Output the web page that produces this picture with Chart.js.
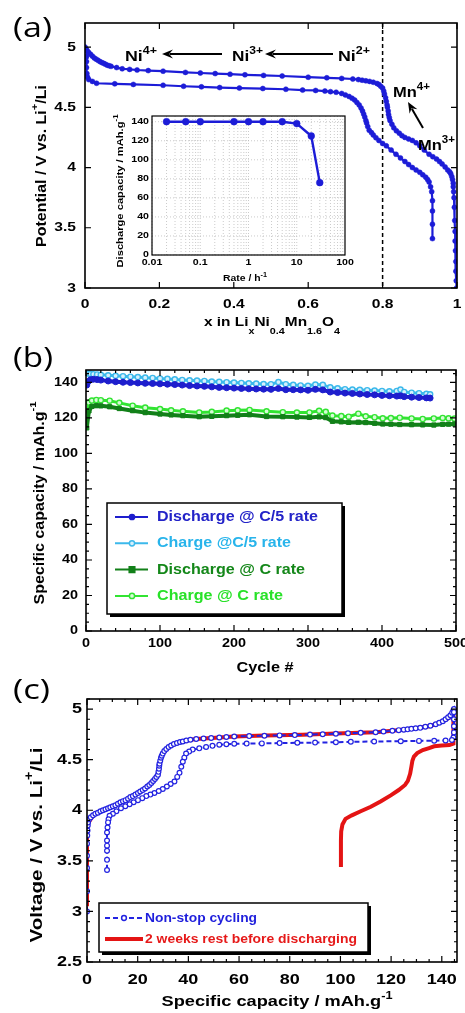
<!DOCTYPE html>
<html>
<head>
<meta charset="utf-8">
<script src="https://cdn.jsdelivr.net/npm/chart.js@4.4.1/dist/chart.umd.min.js"></script>
<style>
    html, body { margin: 0; padding: 0; background: #fff; }
    body { width: 465px; height: 1013px; position: relative; overflow: hidden; }
    canvas { position: absolute; left: 0; }
</style>
</head>
<body>
<canvas id="chartA" width="465" height="345" style="top:0"></canvas>
<canvas id="chartInset" width="260" height="190" style="left:100px;top:100px"></canvas>
<canvas id="chartB" width="465" height="360" style="top:330px"></canvas>
<canvas id="chartC" width="465" height="341" style="top:672px"></canvas>
<script>
// (a) potential vs x in LixNi0.4Mn1.6O4, pairs of [x, V]
const aCharge = [[0, 5.0], [0.003, 4.985], [0.006, 4.97], [0.01, 4.955], [0.015, 4.94], [0.02, 4.925], [0.025, 4.91], [0.03, 4.9],
    [0.035, 4.89], [0.04, 4.88], [0.045, 4.872], [0.05, 4.865], [0.055, 4.858], [0.06, 4.85], [0.065, 4.845], [0.07, 4.84],
    [0.085, 4.83], [0.1, 4.82], [0.12, 4.815], [0.14, 4.81], [0.17, 4.805], [0.21, 4.8], [0.27, 4.79], [0.31, 4.785],
    [0.35, 4.78], [0.39, 4.775], [0.43, 4.77], [0.48, 4.765], [0.53, 4.76], [0.6, 4.75], [0.65, 4.745], [0.69, 4.74],
    [0.72, 4.735], [0.735, 4.73], [0.745, 4.725], [0.755, 4.72], [0.765, 4.715], [0.775, 4.708], [0.785, 4.698], [0.79, 4.69],
    [0.795, 4.675], [0.8, 4.66], [0.803, 4.635], [0.805, 4.61], [0.808, 4.58], [0.81, 4.55], [0.812, 4.52], [0.813, 4.5],
    [0.815, 4.47], [0.816, 4.44], [0.818, 4.415], [0.82, 4.39], [0.825, 4.36], [0.83, 4.33], [0.837, 4.305], [0.845, 4.285],
    [0.852, 4.265], [0.86, 4.25], [0.87, 4.237], [0.88, 4.225], [0.89, 4.205], [0.9, 4.18], [0.912, 4.145], [0.925, 4.11],
    [0.935, 4.09], [0.945, 4.07], [0.953, 4.05], [0.96, 4.03], [0.968, 4.005], [0.975, 3.98], [0.98, 3.965], [0.983, 3.95],
    [0.986, 3.925], [0.988, 3.9], [0.99, 3.87], [0.99, 3.84], [0.991, 3.8], [0.992, 3.75], [0.993, 3.67], [0.994, 3.56],
    [0.995, 3.47], [0.995, 3.39], [0.996, 3.31], [0.997, 3.22], [0.997, 3.14], [0.998, 3.06], [0.999, 3.0]];
const aDischarge = [[0.004, 4.97], [0.004, 4.92], [0.004, 4.88], [0.004, 4.83], [0.005, 4.78], [0.007, 4.75], [0.01, 4.73],
    [0.02, 4.715], [0.031, 4.7], [0.08, 4.695], [0.13, 4.69], [0.21, 4.683], [0.265, 4.675], [0.313, 4.67], [0.362, 4.664],
    [0.415, 4.66], [0.478, 4.656], [0.54, 4.65], [0.585, 4.643], [0.62, 4.64], [0.645, 4.635], [0.66, 4.63], [0.675, 4.625],
    [0.69, 4.615], [0.7, 4.603], [0.71, 4.59], [0.718, 4.575], [0.725, 4.56], [0.731, 4.54], [0.737, 4.52], [0.742, 4.495],
    [0.746, 4.47], [0.749, 4.445], [0.752, 4.42], [0.755, 4.39], [0.757, 4.37], [0.76, 4.34], [0.764, 4.31], [0.77, 4.29],
    [0.775, 4.27], [0.782, 4.248], [0.79, 4.225], [0.8, 4.2], [0.81, 4.18], [0.823, 4.145], [0.836, 4.11], [0.848, 4.08],
    [0.86, 4.05], [0.87, 4.025], [0.88, 4.0], [0.89, 3.98], [0.9, 3.96], [0.908, 3.94], [0.916, 3.92], [0.921, 3.9],
    [0.925, 3.88], [0.929, 3.84], [0.932, 3.8], [0.934, 3.725], [0.934, 3.64], [0.934, 3.53], [0.934, 3.41]];
const aTicksX = [0, 0.2, 0.4, 0.6, 0.8, 1];
const aTicksY = [3, 3.5, 4, 4.5, 5];

// inset: rate capability
const insetRate = [0.02, 0.05, 0.1, 0.5, 1, 2, 5, 10, 20, 30];
const insetCapacity = [140, 140, 140, 140, 140, 140, 140, 138, 125, 76];
const insetTicksX = [0.01, 0.1, 1, 10, 100];
const insetTicksY = [0, 20, 40, 60, 80, 100, 120, 140];

// (b) cycling
const bCyclesC5 = [1, 3, 6, 10, 15, 20, 30, 40, 50, 60, 70, 80, 90, 100, 110, 120, 130, 140, 150, 160,
    170, 180, 190, 200, 210, 220, 230, 240, 250, 260, 270, 280, 290, 300, 310, 320, 330, 340, 350, 360,
    370, 380, 390, 400, 410, 420, 425, 430, 440, 450, 460, 465];
const bDischargeC5 = [138.5, 140.5, 141.5, 141.8, 141.6, 141.3, 140.8, 140.4, 140.1, 139.9, 139.7, 139.5, 139.4, 139.2, 139.0, 138.8, 138.5, 138.2, 138.0, 137.8,
    137.5, 137.2, 137.0, 136.8, 136.6, 136.4, 136.3, 136.2, 136.1, 136.6, 135.9, 135.9, 135.8, 135.6, 136.1, 135.8, 134.6, 134.3, 134.0, 133.8,
    133.5, 133.2, 133.0, 132.7, 132.5, 132.3, 132.5, 132.0, 131.7, 131.5, 131.3, 131.2];
const bChargeC5 = [146.0, 145.0, 144.8, 144.6, 144.5, 144.3, 144.0, 143.7, 143.5, 143.2, 143.0, 142.7, 142.5, 142.2, 142.0, 141.7, 141.4, 141.2, 141.0, 140.8,
    140.5, 140.3, 140.1, 139.9, 139.7, 139.5, 139.3, 139.1, 139.0, 140.2, 139.0, 138.6, 138.3, 138.1, 138.8, 138.6, 137.2, 136.7, 136.2, 136.0,
    135.8, 135.6, 135.4, 135.2, 135.0, 135.2, 136.0, 134.6, 134.2, 133.9, 133.6, 133.3];
const bCyclesC = [1, 4, 8, 14, 20, 32, 45, 63, 80, 100, 115, 131, 153, 170, 190, 205, 221, 244, 266, 285,
    302, 315, 324, 333, 345, 355, 368, 378, 390, 401, 412, 424, 440, 455, 470, 482, 490, 498];
const bDischargeC = [114.4, 124.0, 126.5, 126.9, 126.8, 126.3, 125.3, 124.1, 123.0, 122.2, 121.7, 121.3, 120.7, 120.9, 121.3, 121.5, 121.8, 120.8, 120.7, 120.5,
    120.3, 120.6, 120.2, 118.1, 117.8, 117.5, 117.6, 117.4, 117.0, 116.6, 116.5, 116.3, 116.2, 116.1, 116.0, 116.4, 116.5, 116.6];
const bChargeC = [120.8, 128.7, 129.8, 130.1, 130.0, 129.7, 128.5, 126.9, 125.8, 125.0, 124.3, 123.7, 123.1, 123.4, 124.1, 124.3, 124.5, 123.7, 123.2, 123.0,
    123.1, 124.0, 123.4, 121.3, 121.0, 120.7, 122.4, 120.9, 120.4, 119.8, 119.9, 120.1, 119.7, 119.4, 119.7, 120.0, 119.8, 119.6];
const bTicksX = [0, 100, 200, 300, 400, 500];
const bTicksY = [0, 20, 40, 60, 80, 100, 120, 140];

// (c) voltage profiles, pairs of [capacity, V]
const cBlueCharge = [[0, 3.0], [0, 3.2], [0, 3.43], [0, 3.55], [0, 3.67], [0.1, 3.75], [0.2, 3.8], [0.3, 3.85], [0.4, 3.88],
    [0.8, 3.91], [1.5, 3.93], [2.4, 3.95], [3.3, 3.965], [4.3, 3.975], [5.3, 3.99], [6.3, 4.0], [7.3, 4.01], [8.3, 4.02],
    [9.2, 4.03], [10.2, 4.04], [11.2, 4.05], [12.2, 4.065], [13.2, 4.08], [14.2, 4.09], [15.2, 4.1], [16.2, 4.115], [17.1, 4.13],
    [18.1, 4.14], [19.1, 4.155], [20.1, 4.17], [21, 4.185], [22, 4.2], [22.9, 4.215], [23.8, 4.235], [24.6, 4.25], [25.4, 4.27],
    [26.1, 4.29], [26.8, 4.31], [27.4, 4.33], [28, 4.35], [28.2, 4.38], [28.4, 4.41], [28.5, 4.44], [28.6, 4.46], [28.9, 4.49],
    [29.2, 4.52], [29.5, 4.54], [29.9, 4.56], [30.5, 4.585], [31.3, 4.605], [32.2, 4.625], [33.2, 4.64], [34.3, 4.655],
    [35.5, 4.665], [36.7, 4.675], [37.8, 4.68], [39.2, 4.69], [40.8, 4.697], [43.1, 4.705], [46, 4.71], [49, 4.715], [52.2, 4.72],
    [55, 4.725], [58.1, 4.73], [64, 4.733], [70, 4.737], [76, 4.74], [82, 4.743], [88, 4.748], [93, 4.752], [98.2, 4.757],
    [103, 4.762], [108, 4.766], [113.9, 4.772], [117, 4.778], [120.5, 4.786], [123, 4.792], [125, 4.797], [126.5, 4.8],
    [128, 4.805], [129.7, 4.81], [131.5, 4.815], [133.5, 4.825], [135.5, 4.835], [137.6, 4.85], [139, 4.865], [140.4, 4.88],
    [141.5, 4.9], [142.5, 4.92], [143.4, 4.94], [144.1, 4.965], [144.6, 4.99], [144.8, 5.0]];
const cBlueDischarge = [[144.8, 4.97], [144.8, 4.9], [144.8, 4.83], [144.8, 4.77], [144.6, 4.72], [144, 4.695], [141.5, 4.69],
    [137, 4.688], [131, 4.686], [123.8, 4.683], [113.3, 4.68], [104.1, 4.677], [98.2, 4.672], [90, 4.669], [83, 4.667],
    [76, 4.664], [69, 4.661], [63, 4.659], [58.1, 4.657], [55, 4.652], [52.2, 4.647], [49.5, 4.637], [47, 4.625], [44.3, 4.612],
    [41.7, 4.6], [40.3, 4.58], [39.1, 4.56], [38.4, 4.52], [37.8, 4.48], [37.2, 4.43], [36.5, 4.37], [35.6, 4.33], [34.5, 4.285],
    [33, 4.26], [31.5, 4.235], [29.9, 4.21], [28.3, 4.19], [26.6, 4.17], [25, 4.155], [23.4, 4.14], [21.8, 4.12], [20.1, 4.1],
    [18.4, 4.08], [16.8, 4.06], [15.1, 4.04], [13.4, 4.02], [11.6, 3.99], [10.2, 3.965], [8.9, 3.945], [8.5, 3.91], [8.3, 3.88],
    [8.1, 3.83], [7.9, 3.78], [7.9, 3.7], [7.9, 3.65], [7.9, 3.6], [7.9, 3.51], [7.9, 3.41]];
const cRedCharge = [[0, 3.05], [0, 3.75], [0.4, 3.87], [2.4, 3.95], [6.3, 4.0], [10.2, 4.04], [14.2, 4.09], [18.1, 4.14],
    [22, 4.2], [25.4, 4.27], [28, 4.35], [28.5, 4.44], [29.2, 4.52], [29.9, 4.56], [31.3, 4.605], [33.2, 4.64], [35.5, 4.665],
    [37.8, 4.68], [40.8, 4.697], [43.1, 4.705], [52.2, 4.72], [58.1, 4.73], [70, 4.738], [85, 4.746], [98.2, 4.758],
    [113.9, 4.772], [120.5, 4.786], [129.7, 4.81], [135, 4.83], [138, 4.855], [141, 4.89], [143, 4.915], [144.6, 4.935]];
const cRedDischarge = [[144.6, 4.935], [144.6, 4.8], [144.6, 4.66], [143, 4.645], [140, 4.64], [137, 4.632], [135, 4.615],
    [132.5, 4.595], [130.3, 4.565], [129, 4.53], [128.4, 4.49], [128, 4.43], [127.5, 4.36], [126.6, 4.29], [125.5, 4.25],
    [123, 4.2], [120, 4.15], [116, 4.09], [112, 4.035], [108, 3.99], [104.5, 3.95], [102, 3.915], [100.8, 3.86], [100.3, 3.79],
    [100.2, 3.7], [100.2, 3.55], [100.2, 3.44]];
const cTicksX = [0, 20, 40, 60, 80, 100, 120, 140];
const cTicksY = [2.5, 3, 3.5, 4, 4.5, 5];

const FONT = '"Liberation Sans", Arial, Helvetica, sans-serif';
const PANEL_FONT = '"Open Sans", sans-serif';
const BLUE = 'rgb(28, 28, 215)';

function toPoints(xs, ys) {
    return xs.map((x, i) => ({ x: x, y: ys[i] }));
}

function pairPoints(pairs) {
    return pairs.map(p => ({ x: p[0], y: p[1] }));
}

function steps(a, b, s) {
    const out = [];
    for (let v = a; v <= b + 1e-9; v += s) out.push(Math.round(v * 1e6) / 1e6);
    return out;
}

// text made of pieces, each piece a string or [text, 1 = superscript / -1 = subscript]
function drawRich(ctx, segs, x, y, o) {
    const fam = o.family || FONT;
    const wt = o.weight || 'bold';
    let natural = 0;
    const parts = segs.map(s => {
        const t = typeof s === 'string' ? s : s[0];
        const k = typeof s === 'string' ? 0 : s[1];
        const sz = k ? o.size * 0.7 : o.size;
        ctx.font = `${wt} ${sz}px ${fam}`;
        const w = ctx.measureText(t).width;
        natural += w;
        return { t, k, sz, w };
    });
    const sx = o.width ? o.width / natural : (o.sx || 1);
    ctx.save();
    ctx.translate(x, y);
    if (o.rot) ctx.rotate(o.rot);
    ctx.scale(sx, 1);
    let cx = o.align === 'left' ? 0 : o.align === 'right' ? -natural : -natural / 2;
    ctx.fillStyle = o.color || '#000';
    ctx.textBaseline = o.baseline || 'alphabetic';
    ctx.textAlign = 'left';
    parts.forEach(p => {
        ctx.font = `${wt} ${p.sz}px ${fam}`;
        const dy = p.k === 1 ? -o.size * 0.45 : p.k === -1 ? o.size * 0.6 : 0;
        ctx.fillText(p.t, cx, dy);
        cx += p.w;
    });
    ctx.restore();
}

// box, inward ticks and tick labels
function drawAxes(chart, f) {
    const { ctx, chartArea: a } = chart;
    const sx = chart.scales.x, sy = chart.scales.y;
    ctx.save();
    ctx.setLineDash([]);
    ctx.strokeStyle = '#000';
    if (f.tickLen) {
        ctx.lineWidth = 1.2;
        ctx.beginPath();
        const mark = (vals, len, horiz) => vals.forEach(v => {
            if (horiz) {
                const p = sx.getPixelForValue(v);
                ctx.moveTo(p, a.bottom); ctx.lineTo(p, a.bottom - len);
                ctx.moveTo(p, a.top); ctx.lineTo(p, a.top + len);
            } else {
                const p = sy.getPixelForValue(v);
                ctx.moveTo(a.left, p); ctx.lineTo(a.left + len, p);
                ctx.moveTo(a.right, p); ctx.lineTo(a.right - len, p);
            }
        });
        mark(f.xTicks, f.tickLen, true);
        mark(f.yTicks, f.tickLen, false);
        if (f.xMinor) mark(steps(sx.min, sx.max, f.xMinor), f.tickLen / 2, true);
        if (f.yMinor) mark(steps(sy.min, sy.max, f.yMinor), f.tickLen / 2, false);
        ctx.stroke();
    }
    ctx.lineWidth = f.frame || 1.6;
    ctx.strokeRect(a.left, a.top, a.right - a.left, a.bottom - a.top);
    f.xTicks.forEach(v => drawRich(ctx, [String(v)], sx.getPixelForValue(v), a.bottom + f.xGap,
        { size: f.size, sx: f.sx, baseline: 'middle' }));
    f.yTicks.forEach(v => drawRich(ctx, [String(v)], a.left - f.yGap, sy.getPixelForValue(v),
        { size: f.size, sx: f.sx, baseline: 'middle', align: 'right' }));
    ctx.restore();
}

function arrow(ctx, x1, y1, x2, y2) {
    const ang = Math.atan2(y2 - y1, x2 - x1);
    const c = Math.cos(ang), s = Math.sin(ang), L = 11, W = 4.5;
    ctx.save();
    ctx.strokeStyle = '#000';
    ctx.fillStyle = '#000';
    ctx.lineWidth = 2;
    ctx.beginPath();
    ctx.moveTo(x1, y1);
    ctx.lineTo(x2 - L * 0.7 * c, y2 - L * 0.7 * s);
    ctx.stroke();
    ctx.beginPath();
    ctx.moveTo(x2, y2);
    ctx.lineTo(x2 - L * c + W * s, y2 - L * s - W * c);
    ctx.lineTo(x2 - L * 0.65 * c, y2 - L * 0.65 * s);
    ctx.lineTo(x2 - L * c - W * s, y2 - L * s + W * c);
    ctx.closePath();
    ctx.fill();
    ctx.restore();
}

function marker(ctx, style, x, y, r, fill, stroke) {
    ctx.save();
    ctx.setLineDash([]);
    ctx.fillStyle = fill;
    ctx.strokeStyle = stroke;
    ctx.lineWidth = 1.5;
    ctx.beginPath();
    if (style === 'rect') ctx.rect(x - r, y - r, 2 * r, 2 * r);
    else ctx.arc(x, y, r, 0, Math.PI * 2);
    ctx.fill();
    ctx.stroke();
    ctx.restore();
}

function legendBox(ctx, x, y, w, h) {
    ctx.save();
    ctx.fillStyle = '#000';
    ctx.fillRect(x + 3, y + 3, w, h);
    ctx.fillStyle = '#fff';
    ctx.fillRect(x, y, w, h);
    ctx.strokeStyle = '#000';
    ctx.lineWidth = 1.5;
    ctx.strokeRect(x, y, w, h);
    ctx.restore();
}

function baseOptions(pad, xs, ys) {
    return {
        responsive: false,
        animation: false,
        devicePixelRatio: 1,
        events: [],
        layout: { padding: pad },
        plugins: { legend: { display: false }, tooltip: { enabled: false } },
        scales: {
            x: Object.assign({ type: 'linear', display: false }, xs),
            y: Object.assign({ type: 'linear', display: false }, ys)
        }
    };
}

// ---------- panel (a) ----------
const decoA = {
    id: 'decoA',
    beforeDatasetsDraw(chart) {
        const { ctx, chartArea: a, scales: { x } } = chart;
        const px = x.getPixelForValue(0.8);
        ctx.save();
        ctx.strokeStyle = '#000';
        ctx.lineWidth = 1.5;
        ctx.setLineDash([4, 3]);
        ctx.beginPath();
        ctx.moveTo(px, a.top);
        ctx.lineTo(px, a.bottom);
        ctx.stroke();
        ctx.restore();
    },
    afterDraw(chart) {
        const ctx = chart.ctx;
        drawAxes(chart, { xTicks: aTicksX, yTicks: aTicksY, tickLen: 6, size: 13, sx: 1.2, xGap: 16, yGap: 9 });
        drawRich(ctx, ['(a)'], 13, 37, { family: PANEL_FONT, weight: 'normal', size: 27, width: 39, align: 'left' });
        drawRich(ctx, ['x in Li', ['x', -1], 'Ni', ['0.4', -1], 'Mn', ['1.6', -1], 'O', ['4', -1]], 272, 326, { size: 13, width: 136 });
        drawRich(ctx, ['Potential / V vs. Li', ['+', 1], '/Li'], 42, 166, { size: 14, width: 162, rot: -Math.PI / 2, baseline: 'middle' });

        drawRich(ctx, ['Ni', ['4+', 1]], 125, 61, { size: 15, width: 32, align: 'left' });
        drawRich(ctx, ['Ni', ['3+', 1]], 232, 61, { size: 15, width: 31, align: 'left' });
        drawRich(ctx, ['Ni', ['2+', 1]], 338, 61, { size: 15, width: 32, align: 'left' });
        arrow(ctx, 222, 54, 162, 54);
        arrow(ctx, 333, 54, 265, 54);
        drawRich(ctx, ['Mn', ['4+', 1]], 393, 97, { size: 15, width: 37, align: 'left' });
        drawRich(ctx, ['Mn', ['3+', 1]], 418, 150, { size: 15, width: 37, align: 'left' });
        arrow(ctx, 423, 128, 408, 102);
    }
};

new Chart(document.getElementById('chartA'), {
    type: 'scatter',
    data: {
        datasets: [
            { data: pairPoints(aCharge), showLine: true, borderColor: BLUE, backgroundColor: BLUE,
              borderWidth: 2.2, pointRadius: 2.5, pointBorderWidth: 0.5 },
            { data: pairPoints(aDischarge), showLine: true, borderColor: BLUE, backgroundColor: BLUE,
              borderWidth: 2.2, pointRadius: 2.5, pointBorderWidth: 0.5 }
        ]
    },
    options: baseOptions({ left: 85, right: 8, top: 23, bottom: 57 }, { min: 0, max: 1 }, { min: 3, max: 5.2 }),
    plugins: [decoA]
});

// ---------- inset ----------
const decoInset = {
    id: 'decoInset',
    beforeDatasetsDraw(chart) {
        const { ctx, chartArea: a, scales: { x, y } } = chart;
        ctx.save();
        ctx.fillStyle = '#fff';
        ctx.fillRect(a.left, a.top, a.right - a.left, a.bottom - a.top);
        ctx.strokeStyle = '#b4b4b4';
        ctx.lineWidth = 0.7;
        ctx.setLineDash([1, 2]);
        ctx.beginPath();
        for (let e = -2; e < 2; e++) {
            for (let m = 1; m < 10; m++) {
                const px = x.getPixelForValue(m * Math.pow(10, e));
                ctx.moveTo(px, a.top); ctx.lineTo(px, a.bottom);
            }
        }
        insetTicksY.forEach(v => {
            const py = y.getPixelForValue(v);
            ctx.moveTo(a.left, py); ctx.lineTo(a.right, py);
        });
        ctx.stroke();
        ctx.restore();
    },
    afterDraw(chart) {
        const ctx = chart.ctx;
        drawAxes(chart, { xTicks: insetTicksX, yTicks: insetTicksY, tickLen: 0, frame: 1.2, size: 8.5, sx: 1.25, xGap: 8, yGap: 3 });
        drawRich(ctx, ['Rate / h', ['-1', 1]], 145, 181, { size: 9, width: 44 });
        drawRich(ctx, ['Discharge capacity / mAh.g', ['-1', 1]], 20, 91, { size: 9.5, width: 153, rot: -Math.PI / 2, baseline: 'middle' });
    }
};

new Chart(document.getElementById('chartInset'), {
    type: 'scatter',
    data: {
        datasets: [
            { data: toPoints(insetRate, insetCapacity), showLine: true, borderColor: BLUE, backgroundColor: BLUE,
              borderWidth: 2.4, pointRadius: 3.4, pointBorderWidth: 0.5 }
        ]
    },
    options: baseOptions({ left: 52, right: 15, top: 16, bottom: 35 }, { type: 'logarithmic', min: 0.01, max: 100 }, { min: 0, max: 146 }),
    plugins: [decoInset]
});

// ---------- panel (b) ----------
const bLegendWidths = [161, 134, 148, 126];
const decoB = {
    id: 'decoB',
    afterDraw(chart) {
        const ctx = chart.ctx;
        drawAxes(chart, { xTicks: bTicksX, yTicks: bTicksY, xMinor: 20, yMinor: 5, tickLen: 6, size: 12, sx: 1.2, xGap: 13, yGap: 8 });
        drawRich(ctx, ['(b)'], 13, 37, { family: PANEL_FONT, weight: 'normal', size: 27, width: 40, align: 'left' });
        drawRich(ctx, ['Cycle #'], 265, 342, { size: 14, width: 57 });
        drawRich(ctx, ['Specific capacity / mAh.g', ['-1', 1]], 40, 173, { size: 14, width: 203, rot: -Math.PI / 2, baseline: 'middle' });

        legendBox(ctx, 107, 173, 235, 111);
        chart.data.datasets.forEach((ds, i) => {
            const yy = 187 + i * 26.3;
            ctx.save();
            ctx.strokeStyle = ds.borderColor;
            ctx.lineWidth = 2;
            ctx.beginPath();
            ctx.moveTo(115, yy);
            ctx.lineTo(148, yy);
            ctx.stroke();
            ctx.restore();
            marker(ctx, ds.pointStyle, 132, yy, ds.pointStyle === 'rect' ? 2.8 : 2.6, ds.pointBackgroundColor, ds.borderColor);
            drawRich(ctx, [ds.label], 157, yy, { size: 15, width: bLegendWidths[i], align: 'left', baseline: 'middle', color: ds.legendText });
        });
    }
};

new Chart(document.getElementById('chartB'), {
    type: 'scatter',
    data: {
        datasets: [
            { label: 'Discharge @ C/5 rate', data: toPoints(bCyclesC5, bDischargeC5), showLine: true,
              borderColor: 'rgb(30, 30, 205)', pointBackgroundColor: 'rgb(30, 30, 205)', legendText: 'rgb(35, 35, 200)',
              pointStyle: 'circle', borderWidth: 4, pointRadius: 3, pointBorderWidth: 1 },
            { label: 'Charge @C/5 rate', data: toPoints(bCyclesC5, bChargeC5), showLine: true,
              borderColor: 'rgb(60, 185, 235)', pointBackgroundColor: 'rgb(215, 240, 252)', legendText: 'rgb(40, 180, 235)',
              pointStyle: 'circle', borderWidth: 3, pointRadius: 2.6, pointBorderWidth: 1.4 },
            { label: 'Discharge @ C rate', data: toPoints(bCyclesC, bDischargeC), showLine: true,
              borderColor: 'rgb(18, 128, 25)', pointBackgroundColor: 'rgb(18, 128, 25)', legendText: 'rgb(20, 135, 25)',
              pointStyle: 'rect', borderWidth: 4, pointRadius: 3, pointBorderWidth: 1 },
            { label: 'Charge @ C rate', data: toPoints(bCyclesC, bChargeC), showLine: true,
              borderColor: 'rgb(50, 228, 50)', pointBackgroundColor: 'rgb(215, 250, 215)', legendText: 'rgb(40, 225, 40)',
              pointStyle: 'circle', borderWidth: 3, pointRadius: 2.6, pointBorderWidth: 1.4 }
        ]
    },
    options: baseOptions({ left: 86, right: 9, top: 40, bottom: 59 }, { min: 0, max: 500 }, { min: 0, max: 147 }),
    plugins: [decoB]
});

// ---------- panel (c) ----------
const cLegendWidths = [112, 212];
const decoC = {
    id: 'decoC',
    afterDraw(chart) {
        const ctx = chart.ctx;
        drawAxes(chart, { xTicks: cTicksX, yTicks: cTicksY, xMinor: 5, yMinor: 0.1, tickLen: 6, size: 15, sx: 1.2, xGap: 18, yGap: 5 });
        drawRich(ctx, ['(c)'], 13, 27, { family: PANEL_FONT, weight: 'normal', size: 27, width: 37, align: 'left' });
        drawRich(ctx, ['Specific capacity / mAh.g', ['-1', 1]], 277, 334, { size: 15, width: 231 });
        drawRich(ctx, ['Voltage / V vs. Li', ['+', 1], '/Li'], 37, 173, { size: 17, width: 195, rot: -Math.PI / 2, baseline: 'middle' });

        legendBox(ctx, 99, 231, 269, 49);
        chart.data.datasets.forEach((ds, i) => {
            const yy = 246 + i * 21;
            ctx.save();
            ctx.strokeStyle = ds.borderColor;
            ctx.lineWidth = ds.borderWidth;
            ctx.setLineDash(ds.borderDash || []);
            ctx.beginPath();
            ctx.moveTo(105, yy);
            ctx.lineTo(143, yy);
            ctx.stroke();
            ctx.restore();
            if (ds.pointRadius) marker(ctx, 'circle', 124, yy, 2.4, ds.pointBackgroundColor, ds.borderColor);
            drawRich(ctx, [ds.label], 145, yy, { size: 13, width: cLegendWidths[i], align: 'left', baseline: 'middle', color: ds.legendText });
        });
    }
};

new Chart(document.getElementById('chartC'), {
    type: 'scatter',
    data: {
        datasets: [
            { label: 'Non-stop cycling', data: pairPoints(cBlueCharge.concat(cBlueDischarge)), showLine: true,
              borderColor: 'rgb(35, 35, 225)', pointBackgroundColor: '#fff', legendText: 'rgb(30, 30, 220)',
              borderWidth: 2, borderDash: [5, 3], pointRadius: 2.4, pointBorderWidth: 1.2 },
            { label: '2 weeks rest before discharging', data: pairPoints(cRedCharge.concat(cRedDischarge)), showLine: true,
              borderColor: 'rgb(228, 20, 20)', pointBackgroundColor: 'rgb(228, 20, 20)', legendText: 'rgb(230, 25, 25)',
              borderWidth: 4, pointRadius: 0 }
        ]
    },
    options: baseOptions({ left: 87, right: 8, top: 27, bottom: 51 }, { min: 0, max: 146 }, { min: 2.5, max: 5.1 }),
    plugins: [decoC]
});
</script>
</body>
</html>
